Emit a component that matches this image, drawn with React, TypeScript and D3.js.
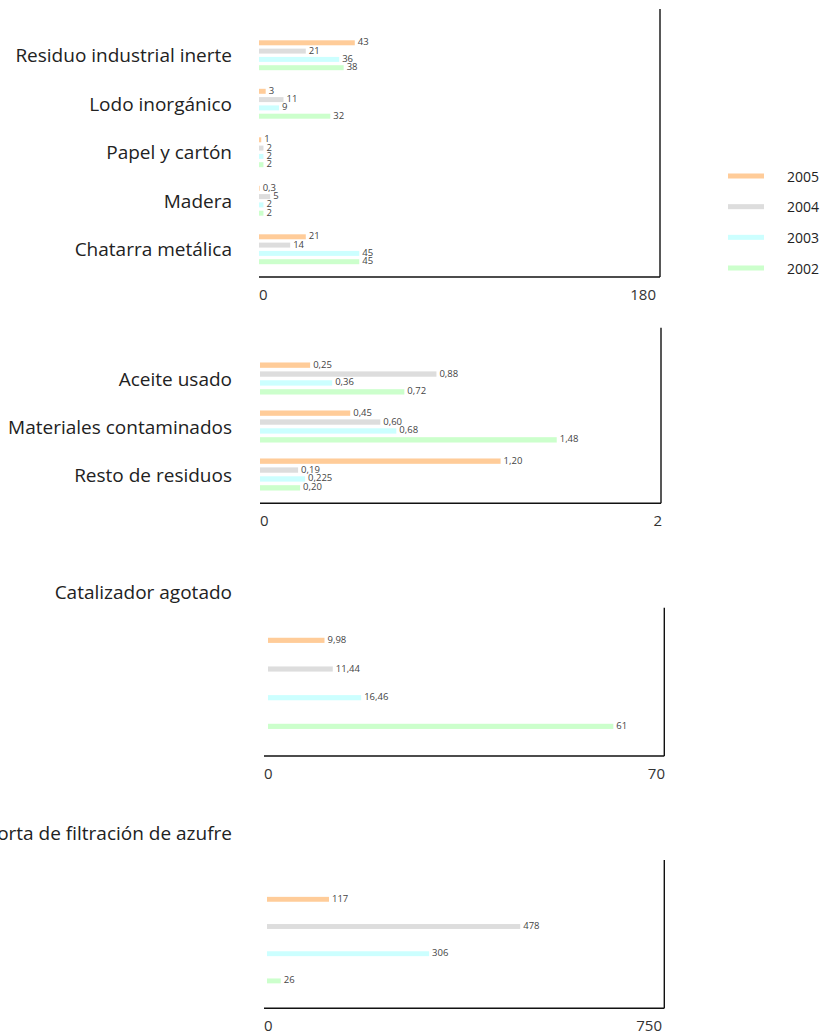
import React from "react";
import * as d3 from "d3";

const years = ["2005", "2004", "2003", "2002"];
const yearColors = ["#FFCC99", "#DDDDDD", "#CCFFFF", "#CCFFCC"];

// Panel 1
const catsA = ["Residuo industrial inerte", "Lodo inorgánico", "Papel y cartón", "Madera", "Chatarra metálica"];
const a2005 = [43, 3, 1, 0.3, 21];
const a2004 = [21, 11, 2, 5, 14];
const a2003 = [36, 9, 2, 2, 45];
const a2002 = [38, 32, 2, 2, 45];
const maxA = 180;

// Panel 2
const catsB = ["Aceite usado", "Materiales contaminados", "Resto de residuos"];
const b2005 = [0.25, 0.45, 1.2];
const b2004 = [0.88, 0.6, 0.19];
const b2003 = [0.36, 0.68, 0.225];
const b2002 = [0.72, 1.48, 0.2];
const maxB = 2;

// Panel 3
const catsC = ["Catalizador agotado"];
const c2005 = [9.98];
const c2004 = [11.44];
const c2003 = [16.46];
const c2002 = [61];
const maxC = 70;

// Panel 4
const catsD = ["Torta de filtración de azufre"];
const d2005 = [117];
const d2004 = [478];
const d2003 = [306];
const d2002 = [26];
const maxD = 750;

const FONT = "'Open Sans', 'Noto Sans', sans-serif";

const fmtPlain = (v: number) => String(v).replace(".", ",");
const fmtFixed2 = (v: number) => {
  const h = v * 100;
  const s = Math.abs(h - Math.round(h)) < 1e-9 ? v.toFixed(2) : String(v);
  return s.replace(".", ",");
};

type PanelProps = {
  cats: string[];
  series: number[][];
  max: number;
  fmt: (v: number) => string;
  barX0: number;
  axisX0: number;
  x1: number;
  topY: number;
  axisY: number;
  y0: number;
  y1: number;
  innerHalf: number;
  title?: { y: number };
  maxLabelX: number;
};

function Panel(p: PanelProps) {
  const x = d3.scaleLinear().domain([0, p.max]).range([p.barX0, p.x1]);
  const yCat = d3.scaleBand<string>().domain(p.cats).range([p.y0, p.y1]);
  const bw = yCat.bandwidth();
  const ySer = d3
    .scaleBand<string>()
    .domain(years)
    .range([bw / 2 - p.innerHalf, bw / 2 + p.innerHalf])
    .paddingInner(p.title ? 0.82 : 0.4)
    .paddingOuter(p.title ? 0.41 : 0.2);
  const bh = ySer.bandwidth();
  return (
    <g>
      {p.cats.map((c) => (
        <g key={c} transform={`translate(0,${yCat(c)})`}>
          <text
            x={232}
            y={p.title ? p.title.y - (yCat(c) as number) : bw / 2}
            textAnchor="end"
            dominantBaseline="central"
            fontSize={19}
            fill="#222"
          >
            {c}
          </text>
          {years.map((yr, si) => {
            const v = p.series[si][p.cats.indexOf(c)];
            const yy = ySer(yr) as number;
            return (
              <g key={yr}>
                <rect x={x(0)} y={yy} width={x(v) - x(0)} height={bh} fill={yearColors[si]} />
                <text
                  x={x(v) + 3}
                  y={yy + bh / 2 - 1}
                  dominantBaseline="central"
                  fontSize={9.5}
                  fill="#444"
                >
                  {p.fmt(v)}
                </text>
              </g>
            );
          })}
        </g>
      ))}
      <line x1={p.axisX0} x2={p.x1} y1={p.axisY} y2={p.axisY} stroke="#111" strokeWidth={1.4} />
      <line x1={p.x1} x2={p.x1} y1={p.topY} y2={p.axisY} stroke="#111" strokeWidth={1.4} />
      <text x={p.axisX0} y={p.axisY + 23} fontSize={15} fill="#333">
        {d3.format("d")(x.domain()[0])}
      </text>
      <text x={p.maxLabelX} y={p.axisY + 23} fontSize={15} fill="#333" textAnchor="end">
        {d3.format("d")(x.domain()[1])}
      </text>
    </g>
  );
}

export default function App() {
  const legendY = d3.scalePoint<string>().domain(years).range([176, 268]);
  return (
    <svg
      width={837}
      height={1034}
      style={{ position: "absolute", left: 0, top: 0 }}
      fontFamily={FONT}
    >
      <rect width={837} height={1034} fill="#fff" />
      <Panel
        cats={catsA}
        series={[a2005, a2004, a2003, a2002]}
        max={maxA}
        fmt={fmtPlain}
        barX0={259}
        axisX0={259}
        x1={660}
        topY={9}
        axisY={277}
        y0={31}
        y1={273.5}
        innerHalf={16.6}
        maxLabelX={656}
      />
      <Panel
        cats={catsB}
        series={[b2005, b2004, b2003, b2002]}
        max={maxB}
        fmt={fmtFixed2}
        barX0={260}
        axisX0={260}
        x1={661}
        topY={327.7}
        axisY={503.3}
        y0={354.5}
        y1={498.5}
        innerHalf={17.8}
        maxLabelX={662}
      />
      <Panel
        cats={catsC}
        series={[c2005, c2004, c2003, c2002]}
        max={maxC}
        fmt={fmtPlain}
        barX0={268}
        axisX0={264}
        x1={664.3}
        topY={607.7}
        axisY={756}
        y0={626}
        y1={740.7}
        innerHalf={57.35}
        title={{ y: 592 }}
        maxLabelX={665}
      />
      <Panel
        cats={catsD}
        series={[d2005, d2004, d2003, d2002]}
        max={maxD}
        fmt={fmtPlain}
        barX0={267}
        axisX0={264}
        x1={664.3}
        topY={860}
        axisY={1008.3}
        y0={885.7}
        y1={994.5}
        innerHalf={54.4}
        title={{ y: 833 }}
        maxLabelX={662}
      />
      {years.map((yr, i) => (
        <g key={yr}>
          <rect x={728} y={(legendY(yr) as number) - 2.5} width={36} height={5} fill={yearColors[i]} />
          <text x={787} y={legendY(yr) as number} dominantBaseline="central" fontSize={14} fill="#222">
            {yr}
          </text>
        </g>
      ))}
    </svg>
  );
}
